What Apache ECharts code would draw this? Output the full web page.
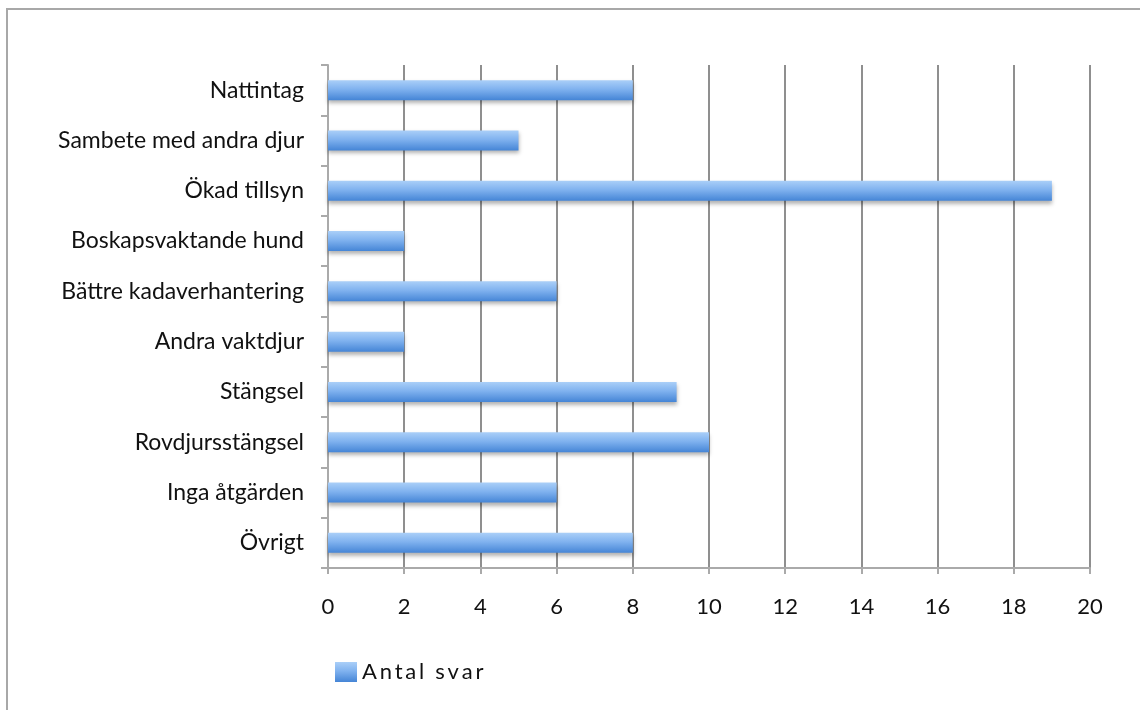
<!DOCTYPE html>
<html>
<head>
<meta charset="utf-8">
<script src="https://cdn.jsdelivr.net/npm/echarts@6/dist/echarts.min.js"></script>
<style>html,body{margin:0;padding:0;background:#fff;}#c{width:1140px;height:710px;}</style>
</head>
<body>
<div id="c"></div>
<script>
var categories = ["Nattintag","Sambete med andra djur","Ökad tillsyn","Boskapsvaktande hund","Bättre kadaverhantering","Andra vaktdjur","Stängsel","Rovdjursstängsel","Inga åtgärden","Övrigt"];
var values = [8, 5, 19, 2, 6, 2, 9.15, 10, 6, 8];
var seriesName = "Antal svar";
var xTicks = {min: 0, max: 20, interval: 2};

var FONT = "Lato";
var barColor = new echarts.graphic.LinearGradient(0,0,0,1,[
  {offset:0,color:'#aacff8'},{offset:0.45,color:'#80b2ef'},{offset:1,color:'#4585d6'}]);
var chart = echarts.init(document.getElementById('c'), null, {renderer:'canvas'});
chart.setOption({
  animation:false,
  backgroundColor:'#fff',
  graphic:[{type:'rect',shape:{x:7,y:9,width:1200,height:800},style:{fill:'none',stroke:'#a8a8a8',lineWidth:2},silent:true,z:-1}],
  grid:{left:328,right:50,top:65,bottom:142,containLabel:false},
  legend:{left:330,top:656,itemWidth:22,itemHeight:20,itemGap:8,
    textStyle:{fontFamily:FONT,fontSize:22,color:'#111'},
    formatter:function(n){return n.split('').join('\u2009');},
    data:[{name:seriesName,icon:'rect'}]},
  xAxis:{type:'value',min:xTicks.min,max:xTicks.max,interval:xTicks.interval,
    axisLine:{show:true,lineStyle:{color:'#aaa',width:2}},
    axisTick:{show:true,length:6,lineStyle:{color:'#aaa',width:2}},
    axisLabel:{fontFamily:FONT,fontSize:22,color:'#111',margin:28},
    splitLine:{show:true,lineStyle:{color:'#8f8f8f',width:2}}},
  yAxis:{type:'category',data:categories,inverse:true,
    axisLine:{show:true,lineStyle:{color:'#aaa',width:2}},
    axisTick:{show:true,length:7,lineStyle:{color:'#aaa',width:2}},
    axisLabel:{fontFamily:FONT,fontSize:23,color:'#111',margin:24}},
  series:[{name:seriesName,type:'bar',data:values,barWidth:20,
    itemStyle:{color:barColor,shadowColor:'rgba(0,0,0,0.3)',shadowBlur:4,shadowOffsetY:3}}]
});
</script>
</body>
</html>
